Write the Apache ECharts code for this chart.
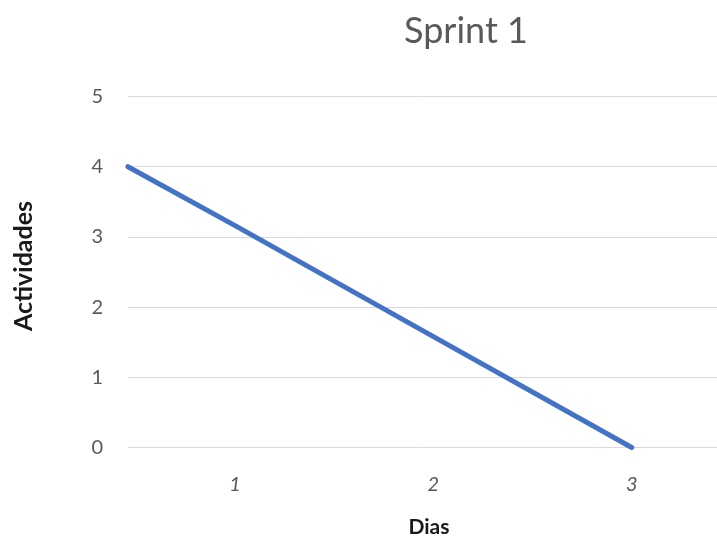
<!DOCTYPE html>
<html>
<head>
<meta charset="utf-8">
<script src="https://cdn.jsdelivr.net/npm/echarts@6/dist/echarts.min.js"></script>
<style>
  html, body { margin: 0; padding: 0; background: #fff; }
  #chart { width: 717px; height: 539px; }
</style>
</head>
<body>
<div id="chart"></div>
<script>
// Burndown for the first sprint: remaining activities per day
const days = [0.46, 1, 2, 3];
const remaining = [4, 3.16, 1.58, 0];
const dayTicks = [1, 2, 3];
const activityTicks = [0, 1, 2, 3, 4, 5];

const textGray = '#595959';
const fontFamily = 'Lato, "Open Sans", sans-serif';

const chart = echarts.init(document.getElementById('chart'), null, { renderer: 'canvas' });

chart.setOption({
  animation: false,
  backgroundColor: '#ffffff',
  title: {
    text: 'Sprint 1',
    left: 461,
    top: 8,
    textAlign: 'center',
    textStyle: { color: textGray, fontSize: 36, fontWeight: 'normal', fontFamily: fontFamily }
  },
  grid: { left: 128, right: 0, top: 96.5, bottom: 91.5, containLabel: false },
  xAxis: {
    type: 'value',
    min: days[0],
    max: 3.43,
    axisLine: { show: false },
    axisTick: { show: false },
    splitLine: { show: false },
    axisLabel: {
      customValues: dayTicks,
      color: textGray,
      fontSize: 20,
      fontStyle: 'italic',
      fontFamily: fontFamily,
      margin: 27
    }
  },
  yAxis: {
    type: 'value',
    min: activityTicks[0],
    max: activityTicks[activityTicks.length - 1],
    interval: 1,
    axisLine: { show: false },
    axisTick: { show: false },
    splitLine: { lineStyle: { color: '#d9d9d9', width: 1 } },
    axisLabel: {
      color: textGray,
      fontSize: 20,
      fontFamily: fontFamily,
      margin: 25
    }
  },
  graphic: [
    {
      type: 'text',
      x: 429,
      y: 527,
      style: {
        text: 'Dias',
        fill: '#1a1a1a',
        font: 'bold 21px ' + fontFamily,
        align: 'center',
        verticalAlign: 'middle'
      }
    },
    {
      type: 'text',
      x: 24,
      y: 266,
      rotation: Math.PI / 2,
      style: {
        text: 'Actividades',
        fill: '#1a1a1a',
        font: 'bold 25px ' + fontFamily,
        align: 'center',
        verticalAlign: 'middle'
      }
    }
  ],
  series: [{
    type: 'line',
    data: days.map((d, i) => [d, remaining[i]]),
    showSymbol: false,
    symbol: 'none',
    lineStyle: { color: '#4472C4', width: 5, cap: 'round' },
    clip: false
  }]
});
</script>
</body>
</html>
